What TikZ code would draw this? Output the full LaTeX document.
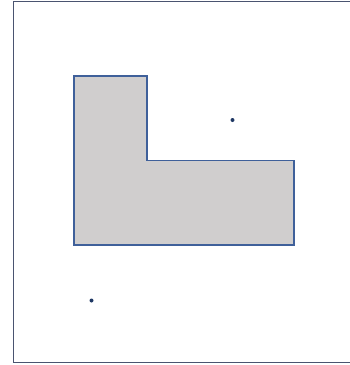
\documentclass[tikz,border=0pt]{standalone}
\begin{document}
\begin{tikzpicture}[x=1pt,y=-1pt,
  frame/.style={draw=outerc,line width=1.5pt},
  lshape/.style={draw=lc,fill=fillc,line width=1.5pt,line join=miter},
  pt/.style={fill=dotc}]
\definecolor{outerc}{HTML}{4A5470}
\definecolor{lc}{HTML}{3F609A}
\definecolor{fillc}{HTML}{D0CECE}
\definecolor{dotc}{HTML}{1F3864}
\useasboundingbox (0,0) rectangle (349,365);
\draw[frame] (13.5,1.7) rectangle (352,362.7);
\draw[lshape] (74,76) -- (147,76) -- (147,160.5) -- (294,160.5) -- (294,245) -- (74,245) -- cycle;
\fill[pt] (232.5,120) circle (2pt);
\fill[pt] (91.5,300.5) circle (2pt);
\end{tikzpicture}
\end{document}
